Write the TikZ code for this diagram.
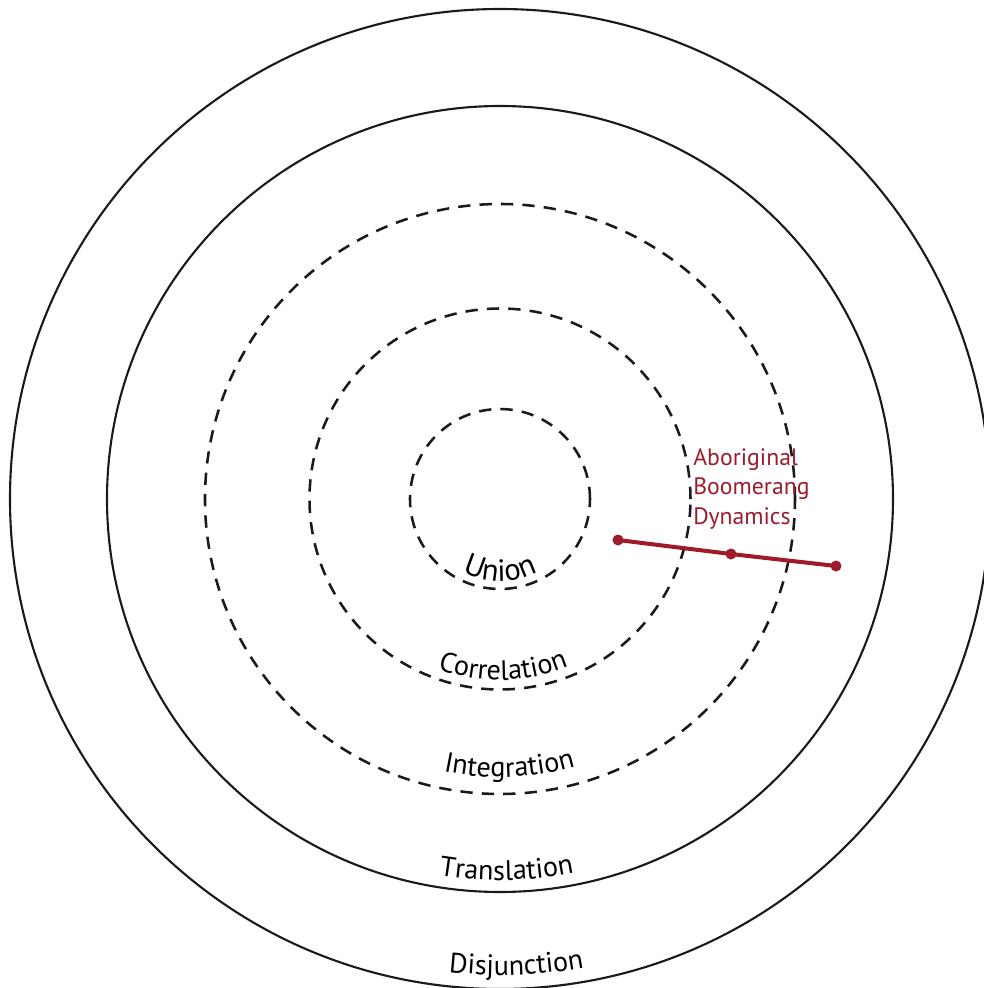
\documentclass[tikz,border=0pt]{standalone}
\usepackage{fontspec}
\setmainfont{PT Sans}
\usetikzlibrary{decorations.text}
\definecolor{Boomerang}{HTML}{9E1B2C}
\definecolor{Ring}{HTML}{1A1A1A}
\newcommand{\RingFont}{\fontsize{16}{18}\selectfont}
\newcommand{\CoreFont}{\fontsize{17.5}{19}\selectfont}

\begin{document}
\begin{tikzpicture}[x=1cm,y=1cm,
  solidring/.style={draw=Ring, line width=1.2pt},
  dashring/.style={draw=Ring, line width=1.45pt, dash pattern=on 7pt off 5.2pt},
  ringlabel/.style={decorate,
    decoration={text along path, text align=center, text={|\RingFont|#1}}}
]

  \useasboundingbox (-10,-9.78) rectangle (9.68,9.98);

  % rings, outside in
  \draw[solidring] (0,0) circle (9.8);
  \draw[solidring] (0,0) circle (7.86);
  \draw[dashring] (0,0) circle (5.9);
  \draw[dashring] (0,0) circle (3.81);
  \draw[dashring] (0,0) circle (1.8);

  % ring names, set along the bottom of each ring
  \path[ringlabel=Disjunction]
    (212:9.52) arc[start angle=212, end angle=332, radius=9.52];
  \path[ringlabel=Translation]
    (211:7.62) arc[start angle=211, end angle=331, radius=7.62];
  \path[ringlabel=Integration]
    (212:5.56) arc[start angle=212, end angle=332, radius=5.56];
  \path[ringlabel=Correlation]
    (191:3.62) arc[start angle=191, end angle=351, radius=3.62];
  \path[decorate,
    decoration={text along path, text align=center, text={|\CoreFont|Union}}]
    (190:1.64) arc[start angle=190, end angle=350, radius=1.64];

  % boomerang line
  \coordinate (boomIn) at (2.36,-0.82);
  \coordinate (boomMid) at (4.62,-1.10);
  \coordinate (boomOut) at (6.72,-1.34);

  \draw[Boomerang, line width=2.3pt] (boomIn) -- (boomMid) -- (boomOut);
  \fill[Boomerang] (boomIn) circle (0.11);
  \fill[Boomerang] (boomMid) circle (0.11);
  \fill[Boomerang] (boomOut) circle (0.11);

  \node[
    anchor=north west,
    inner sep=0pt,
    align=left,
    font=\fontsize{13.5}{16.8}\selectfont,
    text=Boomerang
  ] (boomLabel) at (3.86,1.02)
    {Aboriginal\\Boomerang\\Dynamics};

\end{tikzpicture}
\end{document}
